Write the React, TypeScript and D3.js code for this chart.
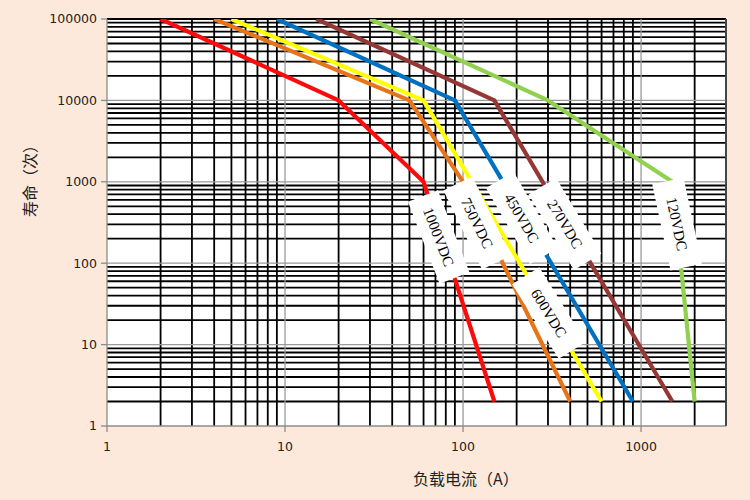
import { useEffect } from "react";
import * as d3 from "d3";

// load current (A) vs. life (cycles)
const series = [
  { name: "1000VDC", color: "#ff0a0a", current: [2, 20, 60, 150], life: [100000, 10000, 1000, 2] },
  { name: "750VDC", color: "#e8741a", current: [4, 50, 100, 400], life: [100000, 10000, 1000, 2] },
  { name: "600VDC", color: "#ffff00", current: [5, 60, 600], life: [100000, 10000, 2] },
  { name: "450VDC", color: "#0070c0", current: [9, 90, 900], life: [100000, 10000, 2] },
  { name: "270VDC", color: "#953735", current: [15, 150, 1500], life: [100000, 10000, 2] },
  { name: "120VDC", color: "#92d050", current: [30, 300, 1500, 2000], life: [100000, 10000, 1000, 2] },
];

// label anchors in data units + tilt of each tag
const labelNames = ["1000VDC", "750VDC", "450VDC", "270VDC", "600VDC", "120VDC"];
const labelCurrent = [73, 120, 214, 374, 304, 1593];
const labelLife = [210, 312, 359, 303, 24.4, 303];
const labelAngle = [69, 64, 60, 59, 58, 78];

const xTicks = [1, 10, 100, 1000];
const yTicks = [1, 10, 100, 1000, 10000, 100000];

const W = 750;
const H = 500;
const L = 107, R = 726, T = 19, B = 426;

export default function App() {
  useEffect(() => {
    document.body.style.margin = "0";
  }, []);

  const x = d3.scaleLog().domain([1, 3000]).range([L, R]);
  const y = d3.scaleLog().domain([1, 100000]).range([B, T]);

  // minor grid values 2..9 of each decade
  const xMinor: number[] = [];
  for (const d of [1, 10, 100, 1000])
    for (let m = 2; m <= 9; m++) if (d * m <= 3000) xMinor.push(d * m);
  const yMinor: number[] = [];
  for (const d of [1, 10, 100, 1000, 10000])
    for (let m = 2; m <= 9; m++) yMinor.push(d * m);

  const line = d3
    .line<[number, number]>()
    .x((d) => x(d[0]))
    .y((d) => y(d[1]));

  const sans = "DejaVu Sans, sans-serif";
  const cjk = "'Noto Sans CJK SC', sans-serif";

  return (
    <svg width={W} height={H} style={{ display: "block" }}>
      <defs>
        <clipPath id="plot">
          <rect x={L} y={T} width={R - L} height={B - T} />
        </clipPath>
      </defs>
      <rect width={W} height={H} fill="#fde9db" />
      <rect x={L} y={T} width={R - L} height={B - T} fill="#fff" />

      {/* grid */}
      <g stroke="#000" strokeWidth={1.8}>
        {xMinor.map((v) => (
          <line key={"vx" + v} x1={x(v)} x2={x(v)} y1={T} y2={B} />
        ))}
        {yMinor.map((v) => (
          <line key={"hy" + v} x1={L} x2={R} y1={y(v)} y2={y(v)} />
        ))}
        <line x1={L} x2={R} y1={y(100000)} y2={y(100000)} />
      </g>
      <g stroke="#9a9a9a" strokeWidth={1.3}>
        {xTicks.slice(1).map((v) => (
          <line key={"mx" + v} x1={x(v)} x2={x(v)} y1={T} y2={B} />
        ))}
        {yTicks.slice(1, -1).map((v) => (
          <line key={"my" + v} x1={L} x2={R} y1={y(v)} y2={y(v)} />
        ))}
      </g>

      {/* axes */}
      <g stroke="#8c8c8c" strokeWidth={1.3}>
        <line x1={L} x2={L} y1={T} y2={B} />
        <line x1={L} x2={R} y1={B} y2={B} />
        {yTicks.map((v) => (
          <line key={"ty" + v} x1={L - 6} x2={L} y1={y(v)} y2={y(v)} />
        ))}
        {xTicks.map((v) => (
          <line key={"tx" + v} x1={x(v)} x2={x(v)} y1={B} y2={B + 6} />
        ))}
      </g>
      <line x1={R} x2={R} y1={T} y2={B} stroke="#555" strokeWidth={1.5} />

      <g fontFamily={sans} fontSize={12.5} fill="#222">
        {yTicks.map((v) => (
          <text key={"ly" + v} x={L - 10} y={y(v)} dy="0.35em" textAnchor="end">
            {v}
          </text>
        ))}
        {xTicks.map((v) => (
          <text key={"lx" + v} x={x(v)} y={B + 25} textAnchor="middle">
            {v}
          </text>
        ))}
      </g>

      {/* curves */}
      <g clipPath="url(#plot)" fill="none" strokeWidth={4.2} strokeLinejoin="round">
        {series.map((s) => (
          <path
            key={s.name}
            d={line(s.current.map((c, i) => [c, s.life[i]] as [number, number])) || ""}
            stroke={s.color}
          />
        ))}
      </g>

      {/* voltage tags */}
      {labelNames.map((n, i) => {
        const cx = x(labelCurrent[i]);
        const cy = y(labelLife[i]);
        return (
          <g key={n} transform={`translate(${cx},${cy}) rotate(${labelAngle[i]})`}>
            <rect x={-44} y={-16} width={88} height={32} fill="#fff" />
            <text
              textAnchor="middle"
              dy="0.35em"
              fontFamily="'Liberation Serif', serif"
              fontSize={15}
              fill="#000"
            >
              {n}
            </text>
          </g>
        );
      })}

      {/* axis titles */}
      <text
        transform="translate(30,177) rotate(-90)"
        textAnchor="middle"
        dy="0.35em"
        fontFamily={cjk}
        fontSize={16}
        fill="#222"
      >
        寿命（次）
      </text>
      <text x={413} y={485} fontFamily={cjk} fontSize={16} fill="#222">
        负载电流（A）
      </text>
    </svg>
  );
}
